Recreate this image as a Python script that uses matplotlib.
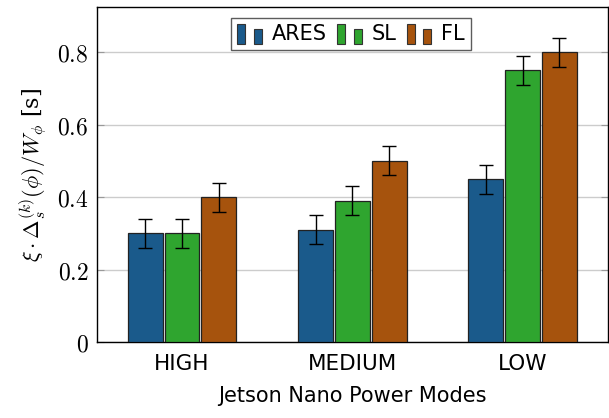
import matplotlib.pyplot as plt
import numpy as np
from matplotlib.legend_handler import HandlerBase
from matplotlib.patches import Rectangle

plt.rcParams['mathtext.fontset'] = 'cm'

modes = ['HIGH', 'MEDIUM', 'LOW']
methods = ['ARES', 'SL', 'FL']
ares = [0.30, 0.31, 0.45]
sl = [0.30, 0.39, 0.75]
fl = [0.40, 0.50, 0.80]
ares_err = [0.04, 0.04, 0.04]
sl_err = [0.04, 0.04, 0.04]
fl_err = [0.04, 0.04, 0.04]
yticks = [0, 0.2, 0.4, 0.6, 0.8]
ytick_labels = ['0', '0.2', '0.4', '0.6', '0.8']

colors = ['#1a5a8b', '#2fa52f', '#a6530d']


class TwoBars(HandlerBase):
    # pgfplots style ybar legend: two small bars
    def create_artists(self, legend, orig_handle, xdescent, ydescent,
                       width, height, fontsize, trans):
        fc = orig_handle.get_facecolor()
        x0, y0 = -xdescent, -ydescent - 0.25 * height
        w = width * 0.3
        r1 = Rectangle((x0, y0), w, height * 1.35, facecolor=fc,
                       edgecolor='#333333', lw=0.8, transform=trans)
        r2 = Rectangle((x0 + width * 0.62, y0), w, height * 1.05, facecolor=fc,
                       edgecolor='#333333', lw=0.8, transform=trans)
        return [r1, r2]


fig = plt.figure(figsize=(6.09, 4.18), dpi=100)
ax = fig.add_axes([0.159, 0.182, 0.839, 0.801])

x = np.arange(len(modes))
w = 0.205
off = 0.216
handles = []
for i, (vals, errs) in enumerate([(ares, ares_err), (sl, sl_err), (fl, fl_err)]):
    b = ax.bar(x + (i - 1) * off, vals, w, color=colors[i], edgecolor='#222222',
               linewidth=0.9, yerr=errs, capsize=5,
               error_kw=dict(ecolor='black', elinewidth=1.0, capthick=1.0),
               label=methods[i], zorder=3)
    handles.append(b.patches[0])

ax.set_xlim(-0.5, 2.5)
ax.set_ylim(0, 0.925)
ax.set_xticks(x)
ax.set_xticklabels(modes, fontsize=15.5)
ax.set_yticks(yticks)
ax.set_yticklabels(['$' + t + '$' for t in ytick_labels], fontsize=17)
ax.tick_params(axis='x', length=0, pad=9)
ax.tick_params(axis='y', direction='in', length=5, color='#999999',
               left=True, right=True, pad=6)
ax.grid(axis='y', color='#cccccc', linewidth=1.0, zorder=0)
ax.set_axisbelow(True)
for s in ax.spines.values():
    s.set_linewidth(1.0)

ax.set_ylabel(r'$\xi \cdot \Delta_s^{(k)}(\phi)/W_\phi$ [s]', fontsize=16, labelpad=6)
ax.yaxis.label.set_fontfamily('DejaVu Serif')
ax.set_xlabel('Jetson Nano Power Modes', fontsize=15, labelpad=8)

leg = ax.legend(handles, methods, loc='upper center', bbox_to_anchor=(0.497, 0.98),
                ncol=3, fontsize=15, frameon=True, fancybox=False,
                edgecolor='#333333', handler_map={Rectangle: TwoBars()},
                handlelength=1.3, handletextpad=0.35, columnspacing=0.5,
                borderpad=0.3, borderaxespad=0.2)
leg.get_frame().set_linewidth(1.0)

fig.savefig('out.png', dpi=100)
